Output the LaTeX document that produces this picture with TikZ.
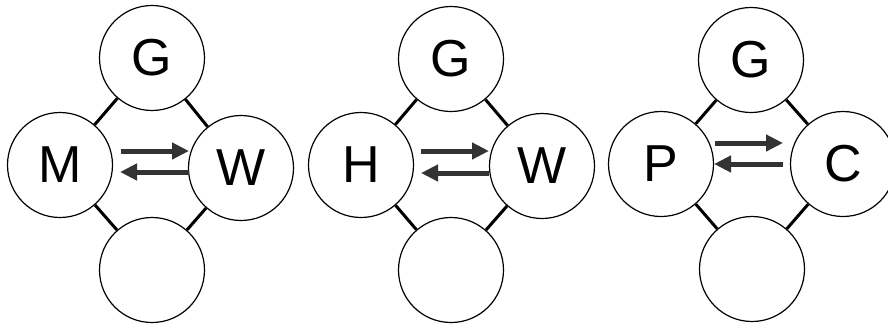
\documentclass[tikz,border=0pt]{standalone}
\usepackage{fontspec}
\setmainfont{Liberation Sans}
\usetikzlibrary{arrows.meta}
\begin{document}
\begin{tikzpicture}[x=1pt,y=-1pt,
  ball/.style={circle,draw,line width=1.2pt,minimum size=105pt,inner sep=0pt,
    font=\fontsize{52}{52}\selectfont},
  link/.style={line width=3pt},
  flow/.style={line width=5pt,draw=black!80,-{Triangle[length=17pt,width=16pt]}}]
\useasboundingbox (0,0) rectangle (888,325);
% group 1
\node[ball] (g1) at (152,58) {G};
\node[ball] (m1) at (60,165) {M};
\node[ball] (w1) at (241,168) {W};
\node[ball] (b1) at (152,270) {};
\draw[link] (g1) -- (m1);
\draw[link] (g1) -- (w1);
\draw[link] (m1) -- (b1);
\draw[link] (w1) -- (b1);
\coordinate (a1s) at (121,151);
\coordinate (a1e) at (189,151);
\coordinate (r1s) at (189,172);
\coordinate (r1e) at (120,172);
\draw[flow] (a1s) -- (a1e);
\draw[flow] (r1s) -- (r1e);
% group 2
\node[ball] (g2) at (451,59) {G};
\node[ball] (h2) at (361,165) {H};
\node[ball] (w2) at (542,166) {W};
\node[ball] (b2) at (451,270) {};
\draw[link] (g2) -- (h2);
\draw[link] (g2) -- (w2);
\draw[link] (h2) -- (b2);
\draw[link] (w2) -- (b2);
\coordinate (a2s) at (421,151);
\coordinate (a2e) at (489,151);
\coordinate (r2s) at (489,173);
\coordinate (r2e) at (421,173);
\draw[flow] (a2s) -- (a2e);
\draw[flow] (r2s) -- (r2e);
% group 3
\node[ball] (g3) at (751,60) {G};
\node[ball] (p3) at (661,164) {P};
\node[ball] (c3) at (843,164) {C};
\node[ball] (b3) at (752,269) {};
\draw[link] (g3) -- (p3);
\draw[link] (g3) -- (c3);
\draw[link] (p3) -- (b3);
\draw[link] (c3) -- (b3);
\coordinate (a3s) at (715,143);
\coordinate (a3e) at (783,143);
\coordinate (r3s) at (783,164);
\coordinate (r3e) at (714,164);
\draw[flow] (a3s) -- (a3e);
\draw[flow] (r3s) -- (r3e);
\end{tikzpicture}
\end{document}
